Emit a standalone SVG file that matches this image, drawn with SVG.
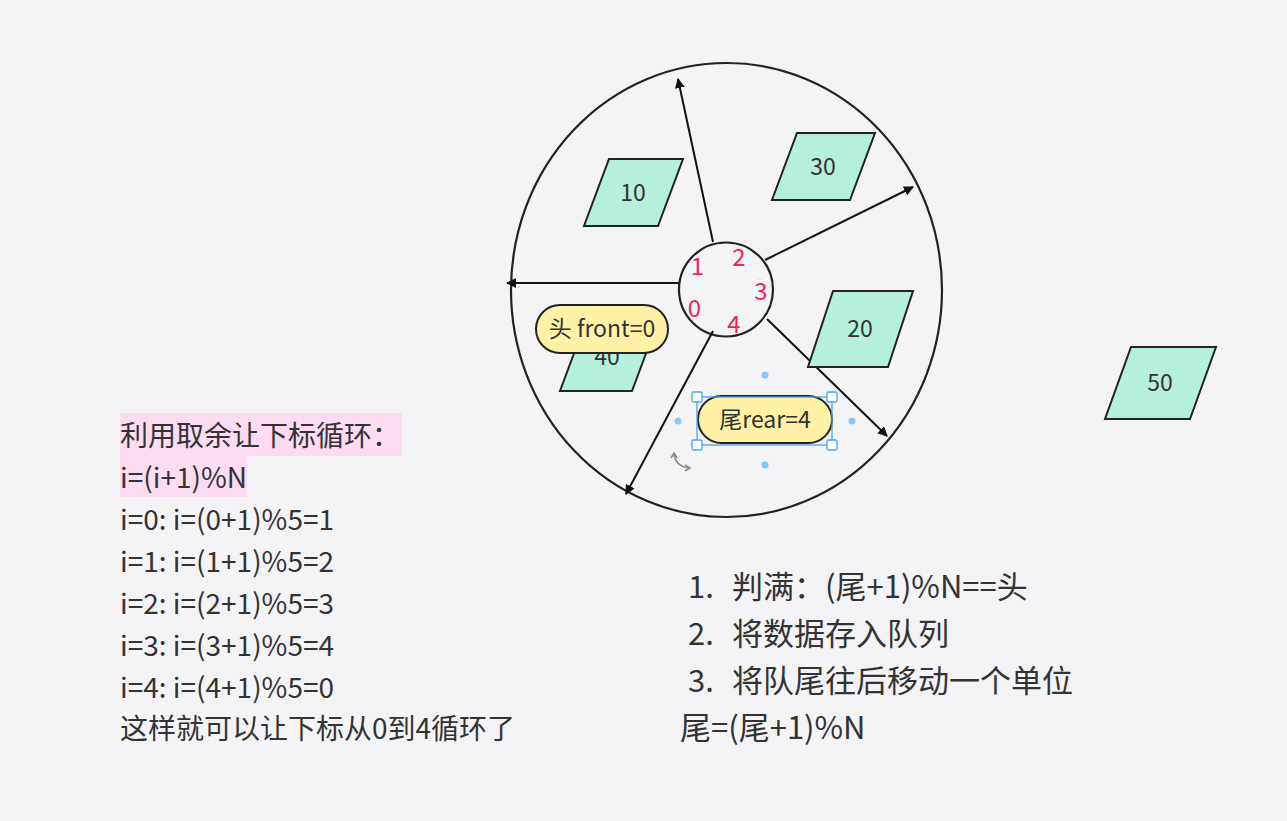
<svg xmlns="http://www.w3.org/2000/svg" width="1287" height="821" viewBox="0 0 1287 821">
<defs>
<marker id="ah" viewBox="0 0 10 10" refX="9" refY="5" markerWidth="10" markerHeight="10" markerUnits="userSpaceOnUse" orient="auto">
<path d="M0,0 L10,5 L0,10 Z" fill="#111"/>
</marker>
</defs>
<style>
text{font-family:"Noto Sans CJK SC","Noto Sans",sans-serif;fill:#333}
.para{fill:#b4f0dc;stroke:#222;stroke-width:2}
.pill{fill:#fff2a6;stroke:#222;stroke-width:2}
.lbl{font-size:23px;text-anchor:middle}
.idx{font-size:24px;fill:#f0245a;text-anchor:middle}
.conn{stroke:#111;stroke-width:2;fill:none;marker-end:url(#ah)}
.left{font-size:28px}
.right{font-size:31px}
.sel{fill:#fff;stroke:#4aa3f0;stroke-width:1.3}
.dot{fill:#8cc6f5}
</style>
<rect width="1287" height="821" fill="#f4f4f6"/>
<g id="ring">
<ellipse cx="726.5" cy="290" rx="215.5" ry="227" fill="none" stroke="#222" stroke-width="2.2"/>
</g>
<g id="hub">
<circle cx="726" cy="289.5" r="47" fill="#f4f4f6" stroke="#222" stroke-width="2.2"/>
<text class="idx" x="697.5" y="275">1</text>
<text class="idx" x="739" y="266">2</text>
<text class="idx" x="761" y="300">3</text>
<text class="idx" x="694.5" y="317">0</text>
<text class="idx" x="734" y="333">4</text>
</g>
<g id="connectors">
<line class="conn" x1="713" y1="242" x2="678" y2="79"/>
<line class="conn" x1="765" y1="260" x2="913" y2="187"/>
<line class="conn" x1="679" y1="283" x2="507" y2="283"/>
<line class="conn" x1="767" y1="319" x2="887" y2="436"/>
<line class="conn" x1="713" y1="331" x2="626" y2="494"/>
</g>
<g id="n10">
<polygon class="para" points="609,159 683,159 658,226 584,226"/>
<text class="lbl" x="633" y="201">10</text>
</g>
<g id="n30">
<polygon class="para" points="797,133 875,133 850,200 772,200"/>
<text class="lbl" x="823" y="175">30</text>
</g>
<g id="n20">
<polygon class="para" points="833,291 913,291 888,367 808,367"/>
<text class="lbl" x="860" y="337">20</text>
</g>
<g id="n40">
<polygon class="para" points="585,324 657,324 632,391 560,391"/>
<text class="lbl" x="607" y="365">40</text>
</g>
<g id="n50">
<polygon class="para" points="1131,347 1216,347 1190,419 1105,419"/>
<text class="lbl" x="1160" y="391">50</text>
</g>
<g id="front">
<rect class="pill" x="536" y="305" width="132" height="48" rx="24"/>
<text class="lbl" x="602" y="337">头 front=0</text>
</g>
<g id="rear">
<rect class="pill" x="698" y="396" width="134" height="47" rx="23.5"/>
<text class="lbl" x="765" y="428">尾rear=4</text>
<rect x="697" y="397" width="135" height="48" fill="none" stroke="#4aa3f0" stroke-width="1.3"/>
<rect class="sel" x="692" y="392" width="10" height="10" rx="1.5"/>
<rect class="sel" x="827" y="392" width="10" height="10" rx="1.5"/>
<rect class="sel" x="692" y="440" width="10" height="10" rx="1.5"/>
<rect class="sel" x="827" y="440" width="10" height="10" rx="1.5"/>
<circle class="dot" cx="765" cy="375" r="3.5"/>
<circle class="dot" cx="678" cy="421" r="3.5"/>
<circle class="dot" cx="852" cy="421" r="3.5"/>
<circle class="dot" cx="765" cy="465" r="3.5"/>
<path d="M674,455 Q676,466 688,468" fill="none" stroke="#888" stroke-width="1.5"/>
<path d="M671,458 L674,453 L677,458" fill="none" stroke="#888" stroke-width="1.5"/>
<path d="M685,465 L690,468 L685,471" fill="none" stroke="#888" stroke-width="1.5"/>
</g>
<g id="left-notes">
<rect x="120" y="413" width="282" height="43" fill="#fbdcf0"/>
<rect x="120" y="456" width="127" height="41" fill="#fbdcf0"/>
<text class="left" x="120" y="446">利用取余让下标循环：</text>
<text class="left" x="120" y="488">i=(i+1)%N</text>
<text class="left" x="120" y="530">i=0: i=(0+1)%5=1</text>
<text class="left" x="120" y="572">i=1: i=(1+1)%5=2</text>
<text class="left" x="120" y="614">i=2: i=(2+1)%5=3</text>
<text class="left" x="120" y="656">i=3: i=(3+1)%5=4</text>
<text class="left" x="120" y="698">i=4: i=(4+1)%5=0</text>
<text class="left" x="120" y="739">这样就可以让下标从0到4循环了</text>
</g>
<g id="right-notes">
<text class="right" x="688" y="598">1.</text>
<text class="right" x="732" y="598">判满：(尾+1)%N==头</text>
<text class="right" x="688" y="645">2.</text>
<text class="right" x="732" y="645">将数据存入队列</text>
<text class="right" x="688" y="692">3.</text>
<text class="right" x="732" y="692">将队尾往后移动一个单位</text>
<text class="right" x="680" y="739">尾=(尾+1)%N</text>
</g>
</svg>
